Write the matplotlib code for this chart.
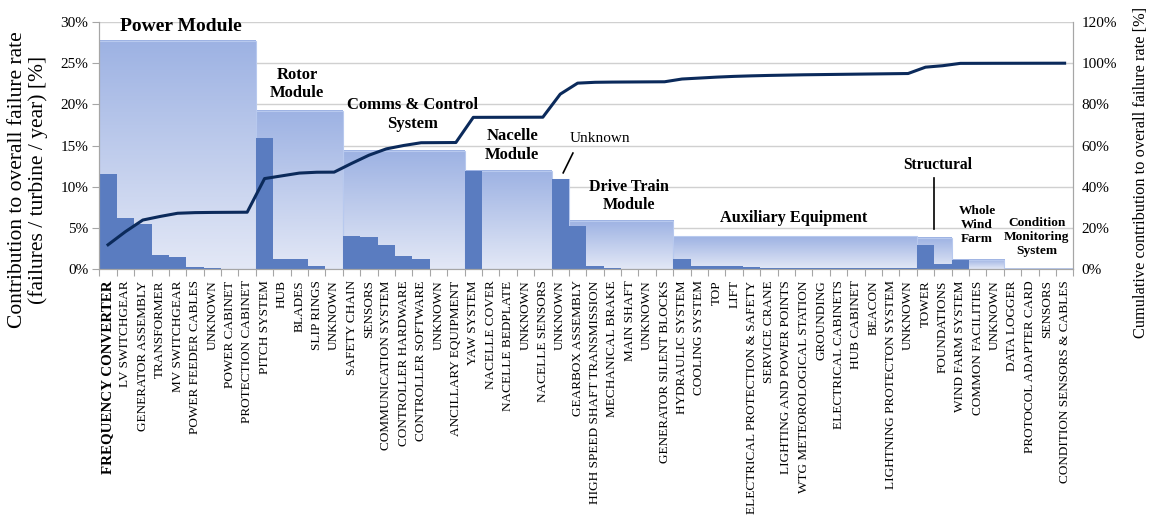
import numpy as np
import matplotlib
matplotlib.use("Agg")
import matplotlib.pyplot as plt
from matplotlib.colors import LinearSegmentedColormap

plt.rcParams['font.family'] = ['Liberation Serif', 'DejaVu Serif']

# modules: name, number of components, box height (% of total failure rate)
modules = ['Power Module', 'Rotor\nModule', 'Comms & Control\nSystem', 'Nacelle\nModule',
           'Unknown', 'Drive Train\nModule', 'Auxiliary Equipment', 'Structural',
           'Whole\nWind\nFarm', 'Condition\nMonitoring\nSystem']
module_sizes = [9, 5, 7, 5, 1, 6, 14, 2, 3, 4]
module_totals = [27.7, 19.2, 14.35, 11.9, 10.9, 5.9, 4.0, 3.85, 1.15, 0.05]

components = [
    'FREQUENCY CONVERTER', 'LV SWITCHGEAR', 'GENERATOR ASSEMBLY', 'TRANSFORMER',
    'MV SWITCHGEAR', 'POWER FEEDER CABLES', 'UNKNOWN', 'POWER CABINET', 'PROTECTION CABINET',
    'PITCH SYSTEM', 'HUB', 'BLADES', 'SLIP RINGS', 'UNKNOWN',
    'SAFETY CHAIN', 'SENSORS', 'COMMUNICATION SYSTEM', 'CONTROLLER HARDWARE',
    'CONTROLLER SOFTWARE', 'UNKNOWN', 'ANCILLARY EQUIPMENT',
    'YAW SYSTEM', 'NACELLE COVER', 'NACELLE BEDPLATE', 'UNKNOWN', 'NACELLE SENSORS',
    'UNKNOWN',
    'GEARBOX ASSEMBLY', 'HIGH SPEED SHAFT TRANSMISSION', 'MECHANICAL BRAKE', 'MAIN SHAFT',
    'UNKNOWN', 'GENERATOR SILENT BLOCKS',
    'HYDRAULIC SYSTEM', 'COOLING SYSTEM', 'TOP', 'LIFT', 'ELECTRICAL PROTECTION & SAFETY',
    'SERVICE CRANE', 'LIGHTING AND POWER POINTS', 'WTG METEOROLOGICAL STATION', 'GROUNDING',
    'ELECTRICAL CABINETS', 'HUB CABINET', 'BEACON', 'LIGHTNING PROTECTON SYSTEM', 'UNKNOWN',
    'TOWER', 'FOUNDATIONS',
    'WIND FARM SYSTEM', 'COMMON FACILITIES', 'UNKNOWN',
    'DATA LOGGER', 'PROTOCOL ADAPTER CARD', 'SENSORS', 'CONDITION SENSORS & CABLES',
]

# contribution of each component (% of total failure rate)
power = [11.6, 6.2, 5.5, 1.7, 1.5, 0.3, 0.1, 0.05, 0.05]
rotor = [15.9, 1.3, 1.3, 0.4, 0.05]
comms = [4.1, 3.9, 3.0, 1.6, 1.3, 0.05, 0.05]
nacelle = [11.9, 0.02, 0.02, 0.02, 0.02]
unknown = [10.9]
drive = [5.2, 0.4, 0.1, 0.05, 0.05, 0.05]
aux = [1.3, 0.45, 0.45, 0.35, 0.25, 0.2, 0.15, 0.15, 0.1, 0.1, 0.1, 0.1, 0.1, 0.1]
struct = [3.0, 0.7]
farm = [1.1, 0.02, 0.02]
cms = [0.01, 0.01, 0.01, 0.01]

values = np.array(power + rotor + comms + nacelle + unknown + drive + aux + struct + farm + cms)
cumulative = np.cumsum(values) / values.sum() * 100

n = len(components)
x = np.arange(n) + 0.5

fig = plt.figure(figsize=(11.51, 5.16), dpi=100)
ax = fig.add_axes([0.0863, 0.4781, 0.8462, 0.4793])

grid_c = '#D0D0D0'
spine_c = '#A6A6A6'
ax.set_axisbelow(True)
ax.yaxis.grid(True, color=grid_c, lw=1, zorder=0)

# module boxes with vertical gradient
cmap = LinearSegmentedColormap.from_list('box', ['#E3E8F6', '#9DB2E3'])
grad = np.linspace(0, 1, 200).reshape(-1, 1)
start = 0
for size, tot in zip(module_sizes, module_totals):
    ax.imshow(grad, cmap=cmap, origin='lower', extent=[start, start + size, 0, tot],
              aspect='auto', zorder=1, interpolation='bilinear')
    ax.add_patch(plt.Rectangle((start, 0), size, tot, fill=False, ec='#B8C9EE', lw=0.8, zorder=1.5))
    start += size

ax.bar(x, values, width=1.0, color='#5A7CC0', zorder=2, linewidth=0)

ax.set_xlim(0, n)
ax.set_ylim(0, 30)
ax.set_yticks(np.arange(0, 31, 5))
ax.set_yticklabels([f'{v}%' for v in range(0, 31, 5)], fontsize=11)
ax.set_xticks(np.arange(n + 1))
ax.set_xticklabels([])
ax.set_xticks(x, minor=True)
ax.set_xticklabels(components, minor=True, rotation=90, fontsize=9.5)
first = ax.get_xticklabels(minor=True)[0]
first.set_fontweight('bold')
first.set_fontsize(10.8)
ax.tick_params(axis='x', which='major', direction='out', length=5, color=spine_c)
ax.tick_params(axis='x', which='minor', length=0, pad=8)
ax.tick_params(axis='y', direction='out', length=5, color=spine_c, pad=3)
ax.spines['top'].set_visible(False)
for s in ['left', 'bottom', 'right']:
    ax.spines[s].set_color(spine_c)

# module labels
lab_x = [4.7, 11.37, 18.0, 23.73, 28.8, 30.46, 39.9, 48.2, 50.47, 53.9]
lab_y = [29.4, 22.5, 18.8, 15.0, 15.9, 8.9, 6.2, 12.65, 5.37, 3.9]
lab_fs = [14, 12, 12, 12, 11, 11.5, 11.7, 11.2, 9.6, 9.6]
for name, lx, ly, fs in zip(modules, lab_x, lab_y, lab_fs):
    ax.text(lx, ly, name, ha='center', va='center', fontsize=fs,
            fontweight='normal' if name == 'Unknown' else 'bold', linespacing=1.2, zorder=5)
ax.plot([27.23, 26.67], [14.1, 11.7], color='black', lw=1.2, zorder=5)
ax.plot([48.0, 48.0], [11.1, 4.9], color='black', lw=1.2, zorder=5)

# cumulative line on right axis
ax2 = ax.twinx()
ax2.plot(x, cumulative, color='#0B2A5B', lw=2.2)
ax2.set_ylim(0, 120)
ax2.set_yticks(np.arange(0, 121, 20))
ax2.set_yticklabels([f'{v}%' for v in range(0, 121, 20)], fontsize=11)
ax2.tick_params(axis='y', length=0, pad=6)
ax2.spines['top'].set_visible(False)
for s in ['left', 'bottom', 'right']:
    ax2.spines[s].set_color(spine_c)

fig.text(0.0148, 0.651, 'Contribution to overall failure rate', rotation=90,
         ha='center', va='center', fontsize=15.5)
fig.text(0.0330, 0.651, '(failures / turbine / year) [%]', rotation=90,
         ha='center', va='center', fontsize=15.5)
fig.text(0.9913, 0.665, 'Cumulative contribution to overall failure rate [%]', rotation=90,
         ha='center', va='center', fontsize=11.8)

fig.savefig('out.png', dpi=100)
